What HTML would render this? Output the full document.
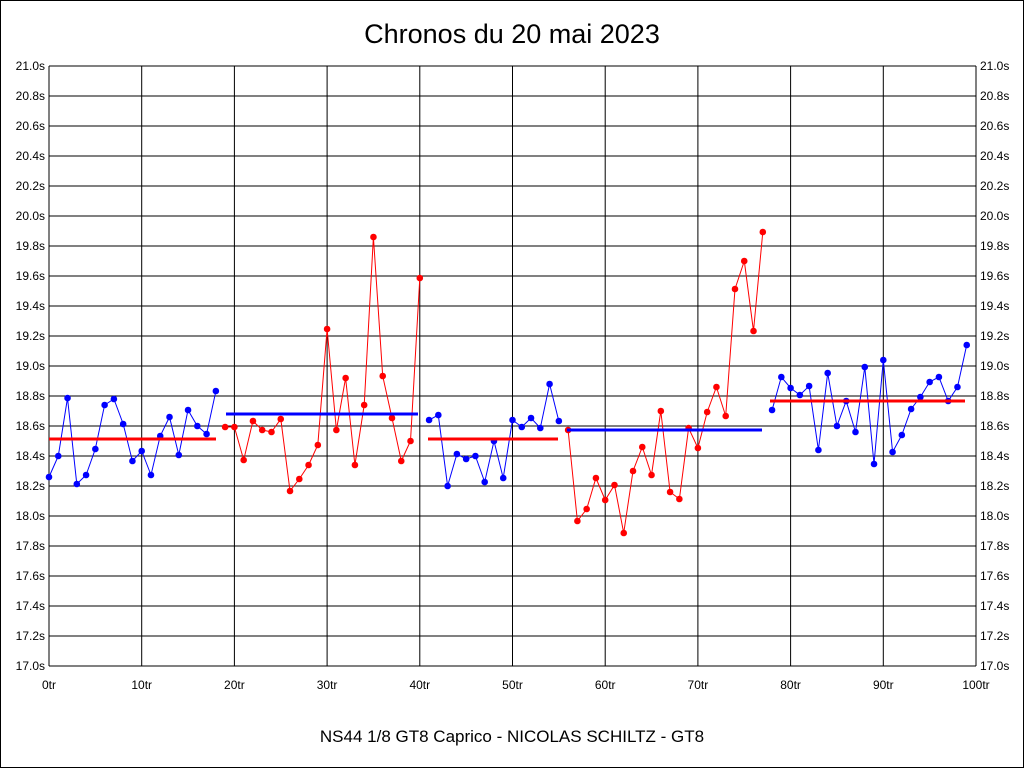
<!DOCTYPE html>
<html><head><meta charset="utf-8"><style>
html,body{margin:0;padding:0;background:#fff}
svg{display:block}
text{font-family:"Liberation Sans",sans-serif;fill:#000}
</style></head><body>
<svg id="s" width="1024" height="768" xmlns="http://www.w3.org/2000/svg">
<rect x="0.5" y="0.5" width="1023" height="767" fill="#fff" stroke="#000"/>
<text x="512" y="43" font-size="27" text-anchor="middle">Chronos du 20 mai 2023</text>
<text x="512" y="742" font-size="17" text-anchor="middle">NS44 1/8 GT8 Caprico - NICOLAS SCHILTZ - GT8</text>
<g id="g"></g>
</svg>
<script>
var g=document.getElementById('g'),ns='http://www.w3.org/2000/svg';
function el(t,a,txt){var e=document.createElementNS(ns,t);for(var k in a)e.setAttribute(k,a[k]);if(txt!=null)e.textContent=txt;g.appendChild(e);return e;}
var L=49,R=976,T=66,B=666;
function X(l){return L+l*9.27;}
for(var i=0;i<=20;i++){var y=T+i*30;el('line',{x1:L,x2:R,y1:y,y2:y,stroke:'#000','stroke-width':1});
var v=(21-i*0.2).toFixed(1)+'s';
el('text',{x:45,y:y+4,'font-size':12,'text-anchor':'end'},v);
el('text',{x:980,y:y+4,'font-size':12},v);}
for(var i=0;i<=10;i++){var x=L+i*92.7;el('line',{x1:x,x2:x,y1:T,y2:B,stroke:'#000','stroke-width':1});
el('text',{x:x,y:689,'font-size':12,'text-anchor':'middle'},(i*10)+'tr');}
var segs=[
[0,'#0000ff',[477,456,398,484,475,449,405,399,424,461,451,475,436,417,455,410,426,434,391]],
[19,'#ff0000',[427,427,460,421,430,432,419,491,479,465,445,329,430,378,465,405,237,376,418,461,441,278]],
[41,'#0000ff',[420,415,486,454,459,456,482,441,478,420,427,418,428,384,421]],
[56,'#ff0000',[430,521,509,478,500,485,533,471,447,475,411,492,499,428,448,412,387,416,289,261,331,232]],
[78,'#0000ff',[410,377,388,395,386,450,373,426,401,432,367,464,360,452,435,409,397,382,377,401,387,345]]];
var means=[[49,216,439,'#ff0000'],[226,418,414,'#0000ff'],[428,558,439,'#ff0000'],[567,762,430,'#0000ff'],[770,965,401,'#ff0000']];
segs.forEach(function(s){var p=s[2].map(function(y,j){return X(s[0]+j).toFixed(1)+','+y;}).join(' ');
el('polyline',{points:p,fill:'none',stroke:s[1],'stroke-width':1});
s[2].forEach(function(y,j){el('circle',{cx:X(s[0]+j),cy:y,r:3.3,fill:s[1]});});});
means.forEach(function(m){el('line',{x1:m[0],x2:m[1],y1:m[2],y2:m[2],stroke:m[3],'stroke-width':3});});
</script>
</body></html>
